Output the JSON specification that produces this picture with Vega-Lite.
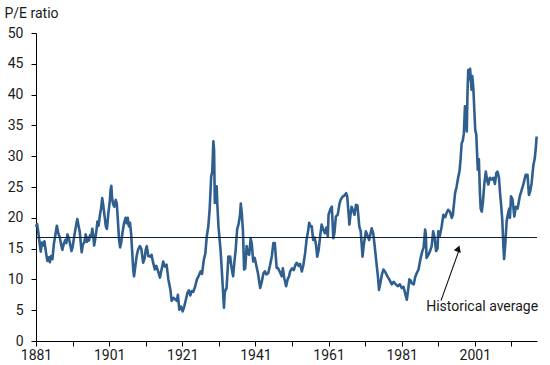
{
  "$schema": "https://vega.github.io/schema/vega-lite/v6.json",
  "autosize": {"type": "none"},
  "padding": {"left": 36, "top": 33, "right": 13, "bottom": 24},
  "width": 501,
  "height": 308,
  "background": "white",
  "config": {
    "view": {"stroke": null},
    "font": "Roboto",
    "axis": {
      "grid": false,
      "domainColor": "#000000",
      "tickColor": "#000000",
      "tickSize": 5,
      "labelFont": "Roboto",
      "labelFontSize": 14,
      "labelColor": "#1a1a1a",
      "titleFont": "Roboto",
      "titleFontSize": 14,
      "titleFontWeight": "normal",
      "titleColor": "#1a1a1a"
    }
  },
  "encoding": {
    "x": {
      "field": "year", "type": "quantitative",
      "scale": {"domain": [1881, 2018], "nice": false, "zero": false},
      "axis": {
        "title": null,
        "values": [1881, 1891, 1901, 1911, 1921, 1931, 1941, 1951, 1961, 1971, 1981, 1991, 2001, 2011],
        "format": "d",
        "labelExpr": "(datum.value - 1881) % 20 == 0 ? datum.label : ''",
        "labelPadding": 2,
        "labelFlush": false,
        "labelOverlap": false
      }
    },
    "y": {
      "field": "pe", "type": "quantitative",
      "scale": {"domain": [0, 50], "nice": false},
      "axis": {
        "title": "P/E ratio",
        "values": [0, 5, 10, 15, 20, 25, 30, 35, 40, 45, 50],
        "labelOverlap": false,
        "labelPadding": 8,
        "titleAngle": 0,
        "titleAlign": "left",
        "titleBaseline": "alphabetic",
        "titleX": -32,
        "titleY": -16
      }
    }
  },
  "layer": [
    {
      "data": {"values": [
        {"year": 1881.0, "pe": 18.5}, {"year": 1881.3, "pe": 19.0}, {"year": 1881.6, "pe": 17.8}, {"year": 1882.0, "pe": 15.8},
        {"year": 1882.3, "pe": 14.5}, {"year": 1882.6, "pe": 16.0}, {"year": 1883.0, "pe": 15.5}, {"year": 1883.3, "pe": 16.2},
        {"year": 1883.7, "pe": 14.5}, {"year": 1884.1, "pe": 13.0}, {"year": 1884.5, "pe": 13.6}, {"year": 1884.8, "pe": 12.8},
        {"year": 1885.1, "pe": 13.8}, {"year": 1885.5, "pe": 13.3}, {"year": 1885.9, "pe": 15.8}, {"year": 1886.3, "pe": 17.2},
        {"year": 1886.7, "pe": 18.7}, {"year": 1887.1, "pe": 17.5}, {"year": 1887.5, "pe": 16.8}, {"year": 1887.9, "pe": 15.6},
        {"year": 1888.2, "pe": 14.8}, {"year": 1888.6, "pe": 15.8}, {"year": 1889.0, "pe": 16.4}, {"year": 1889.3, "pe": 15.9},
        {"year": 1889.6, "pe": 17.3}, {"year": 1890.0, "pe": 16.7}, {"year": 1890.4, "pe": 15.5}, {"year": 1890.7, "pe": 14.6},
        {"year": 1891.0, "pe": 15.2}, {"year": 1891.4, "pe": 16.8}, {"year": 1891.8, "pe": 18.2}, {"year": 1892.1, "pe": 19.2},
        {"year": 1892.3, "pe": 19.8}, {"year": 1892.7, "pe": 18.5}, {"year": 1893.0, "pe": 17.6}, {"year": 1893.3, "pe": 15.5},
        {"year": 1893.5, "pe": 14.4}, {"year": 1893.8, "pe": 15.6}, {"year": 1894.2, "pe": 16.0}, {"year": 1894.6, "pe": 17.3},
        {"year": 1894.9, "pe": 16.1}, {"year": 1895.2, "pe": 16.8}, {"year": 1895.5, "pe": 16.3}, {"year": 1895.8, "pe": 17.2},
        {"year": 1896.1, "pe": 17.0}, {"year": 1896.4, "pe": 18.2}, {"year": 1896.7, "pe": 16.8}, {"year": 1896.9, "pe": 15.5},
        {"year": 1897.2, "pe": 16.6}, {"year": 1897.5, "pe": 17.8}, {"year": 1897.8, "pe": 19.4}, {"year": 1898.1, "pe": 18.7},
        {"year": 1898.5, "pe": 20.5}, {"year": 1898.8, "pe": 21.5}, {"year": 1899.1, "pe": 23.2}, {"year": 1899.4, "pe": 22.0},
        {"year": 1899.7, "pe": 20.5}, {"year": 1900.1, "pe": 18.6}, {"year": 1900.4, "pe": 18.2}, {"year": 1900.8, "pe": 20.8},
        {"year": 1901.2, "pe": 22.8}, {"year": 1901.4, "pe": 24.6}, {"year": 1901.6, "pe": 25.2}, {"year": 1901.8, "pe": 23.2},
        {"year": 1902.1, "pe": 22.2}, {"year": 1902.4, "pe": 21.8}, {"year": 1902.8, "pe": 22.9}, {"year": 1903.1, "pe": 22.3},
        {"year": 1903.4, "pe": 19.5}, {"year": 1903.7, "pe": 16.5}, {"year": 1904.0, "pe": 15.2}, {"year": 1904.3, "pe": 16.0},
        {"year": 1904.7, "pe": 17.8}, {"year": 1905.1, "pe": 19.2}, {"year": 1905.5, "pe": 20.0}, {"year": 1905.8, "pe": 19.1},
        {"year": 1906.1, "pe": 20.0}, {"year": 1906.4, "pe": 18.6}, {"year": 1906.7, "pe": 19.2}, {"year": 1907.0, "pe": 17.5},
        {"year": 1907.3, "pe": 14.5}, {"year": 1907.6, "pe": 11.5}, {"year": 1907.8, "pe": 10.5}, {"year": 1908.2, "pe": 12.3},
        {"year": 1908.5, "pe": 13.7}, {"year": 1908.9, "pe": 14.8}, {"year": 1909.4, "pe": 15.4}, {"year": 1909.8, "pe": 15.0},
        {"year": 1910.3, "pe": 12.7}, {"year": 1910.7, "pe": 13.4}, {"year": 1911.0, "pe": 14.8}, {"year": 1911.3, "pe": 15.4},
        {"year": 1911.7, "pe": 13.8}, {"year": 1912.2, "pe": 13.7}, {"year": 1912.6, "pe": 14.0}, {"year": 1913.0, "pe": 12.8},
        {"year": 1913.5, "pe": 11.6}, {"year": 1913.9, "pe": 12.2}, {"year": 1914.4, "pe": 11.3}, {"year": 1914.9, "pe": 10.3},
        {"year": 1915.3, "pe": 11.5}, {"year": 1915.8, "pe": 12.9}, {"year": 1916.2, "pe": 12.1}, {"year": 1916.7, "pe": 12.4},
        {"year": 1917.2, "pe": 10.0}, {"year": 1917.7, "pe": 8.5}, {"year": 1918.1, "pe": 6.5}, {"year": 1918.6, "pe": 7.0},
        {"year": 1919.0, "pe": 6.8}, {"year": 1919.5, "pe": 6.5}, {"year": 1919.8, "pe": 7.5}, {"year": 1920.2, "pe": 5.1},
        {"year": 1920.7, "pe": 5.6}, {"year": 1921.1, "pe": 4.8}, {"year": 1921.5, "pe": 5.5}, {"year": 1921.9, "pe": 6.5},
        {"year": 1922.4, "pe": 7.8}, {"year": 1922.8, "pe": 8.2}, {"year": 1923.2, "pe": 7.4}, {"year": 1923.6, "pe": 8.1},
        {"year": 1924.0, "pe": 8.0}, {"year": 1924.5, "pe": 8.8}, {"year": 1925.0, "pe": 10.0}, {"year": 1925.5, "pe": 10.6},
        {"year": 1926.0, "pe": 11.3}, {"year": 1926.4, "pe": 10.9}, {"year": 1926.9, "pe": 13.2}, {"year": 1927.3, "pe": 14.2},
        {"year": 1927.7, "pe": 17.0}, {"year": 1928.1, "pe": 18.5}, {"year": 1928.5, "pe": 21.5}, {"year": 1928.9, "pe": 26.7},
        {"year": 1929.2, "pe": 27.5}, {"year": 1929.5, "pe": 32.4}, {"year": 1929.7, "pe": 31.0}, {"year": 1929.9, "pe": 22.4},
        {"year": 1930.2, "pe": 24.0}, {"year": 1930.4, "pe": 25.1}, {"year": 1930.6, "pe": 22.0}, {"year": 1930.9, "pe": 18.6},
        {"year": 1931.2, "pe": 16.5}, {"year": 1931.5, "pe": 14.5}, {"year": 1931.8, "pe": 11.6}, {"year": 1932.1, "pe": 8.5},
        {"year": 1932.4, "pe": 5.4}, {"year": 1932.6, "pe": 7.8}, {"year": 1932.9, "pe": 8.4}, {"year": 1933.1, "pe": 8.5},
        {"year": 1933.4, "pe": 11.5}, {"year": 1933.6, "pe": 13.7}, {"year": 1933.9, "pe": 12.8}, {"year": 1934.1, "pe": 13.7},
        {"year": 1934.5, "pe": 11.8}, {"year": 1934.9, "pe": 10.5}, {"year": 1935.2, "pe": 12.5}, {"year": 1935.6, "pe": 14.8},
        {"year": 1936.0, "pe": 18.1}, {"year": 1936.4, "pe": 19.0}, {"year": 1936.8, "pe": 20.5}, {"year": 1937.0, "pe": 22.3},
        {"year": 1937.3, "pe": 20.5}, {"year": 1937.6, "pe": 17.8}, {"year": 1937.9, "pe": 11.6}, {"year": 1938.2, "pe": 11.8},
        {"year": 1938.6, "pe": 15.4}, {"year": 1938.9, "pe": 14.2}, {"year": 1939.3, "pe": 14.0}, {"year": 1939.7, "pe": 16.7},
        {"year": 1940.0, "pe": 15.8}, {"year": 1940.4, "pe": 12.9}, {"year": 1940.8, "pe": 13.5}, {"year": 1941.3, "pe": 12.1},
        {"year": 1941.7, "pe": 11.0}, {"year": 1942.3, "pe": 8.6}, {"year": 1942.7, "pe": 9.5}, {"year": 1943.2, "pe": 11.0},
        {"year": 1943.6, "pe": 11.3}, {"year": 1944.0, "pe": 10.8}, {"year": 1944.5, "pe": 11.0}, {"year": 1945.0, "pe": 12.3},
        {"year": 1945.5, "pe": 13.8}, {"year": 1945.9, "pe": 15.9}, {"year": 1946.3, "pe": 15.9}, {"year": 1946.8, "pe": 11.9},
        {"year": 1947.2, "pe": 11.8}, {"year": 1947.7, "pe": 11.2}, {"year": 1948.2, "pe": 10.5}, {"year": 1948.5, "pe": 11.8},
        {"year": 1948.9, "pe": 10.2}, {"year": 1949.4, "pe": 8.9}, {"year": 1949.8, "pe": 10.0}, {"year": 1950.2, "pe": 10.5},
        {"year": 1950.5, "pe": 11.3}, {"year": 1951.0, "pe": 11.8}, {"year": 1951.5, "pe": 11.5}, {"year": 1951.9, "pe": 12.3},
        {"year": 1952.3, "pe": 12.7}, {"year": 1952.8, "pe": 12.2}, {"year": 1953.2, "pe": 12.5}, {"year": 1953.7, "pe": 11.3},
        {"year": 1954.1, "pe": 12.3}, {"year": 1954.6, "pe": 14.3}, {"year": 1955.0, "pe": 16.5}, {"year": 1955.4, "pe": 17.8},
        {"year": 1955.7, "pe": 19.2}, {"year": 1956.1, "pe": 18.6}, {"year": 1956.4, "pe": 18.6}, {"year": 1956.8, "pe": 16.4},
        {"year": 1957.2, "pe": 16.8}, {"year": 1957.6, "pe": 15.5}, {"year": 1957.9, "pe": 13.7}, {"year": 1958.3, "pe": 14.8},
        {"year": 1958.7, "pe": 17.0}, {"year": 1959.1, "pe": 18.9}, {"year": 1959.5, "pe": 18.2}, {"year": 1960.0, "pe": 17.5},
        {"year": 1960.4, "pe": 18.4}, {"year": 1960.8, "pe": 17.0}, {"year": 1961.0, "pe": 20.5}, {"year": 1961.5, "pe": 21.4},
        {"year": 1961.9, "pe": 21.8}, {"year": 1962.3, "pe": 16.7}, {"year": 1962.6, "pe": 17.5}, {"year": 1963.0, "pe": 20.2},
        {"year": 1963.5, "pe": 20.5}, {"year": 1964.0, "pe": 22.3}, {"year": 1964.3, "pe": 22.9}, {"year": 1964.8, "pe": 23.4},
        {"year": 1965.3, "pe": 23.6}, {"year": 1965.8, "pe": 24.0}, {"year": 1966.1, "pe": 23.5}, {"year": 1966.5, "pe": 20.5},
        {"year": 1966.7, "pe": 18.9}, {"year": 1967.0, "pe": 20.5}, {"year": 1967.3, "pe": 21.8}, {"year": 1967.8, "pe": 21.0},
        {"year": 1968.1, "pe": 20.5}, {"year": 1968.5, "pe": 22.1}, {"year": 1968.9, "pe": 22.0}, {"year": 1969.4, "pe": 18.6},
        {"year": 1969.8, "pe": 17.8}, {"year": 1970.3, "pe": 13.7}, {"year": 1970.6, "pe": 15.5}, {"year": 1971.2, "pe": 17.8},
        {"year": 1971.6, "pe": 17.2}, {"year": 1972.1, "pe": 16.4}, {"year": 1972.5, "pe": 17.5}, {"year": 1972.8, "pe": 18.3},
        {"year": 1973.2, "pe": 17.5}, {"year": 1973.6, "pe": 15.5}, {"year": 1974.2, "pe": 12.1}, {"year": 1974.5, "pe": 10.5},
        {"year": 1974.8, "pe": 8.3}, {"year": 1975.2, "pe": 9.5}, {"year": 1975.6, "pe": 10.8}, {"year": 1976.0, "pe": 11.6},
        {"year": 1976.5, "pe": 11.2}, {"year": 1977.1, "pe": 10.5}, {"year": 1977.6, "pe": 10.0}, {"year": 1978.3, "pe": 9.2},
        {"year": 1978.8, "pe": 9.6}, {"year": 1979.4, "pe": 9.2}, {"year": 1979.9, "pe": 8.9}, {"year": 1980.5, "pe": 9.2},
        {"year": 1981.0, "pe": 8.6}, {"year": 1981.5, "pe": 8.8}, {"year": 1982.0, "pe": 7.6}, {"year": 1982.4, "pe": 6.7},
        {"year": 1982.8, "pe": 8.5}, {"year": 1983.1, "pe": 10.0}, {"year": 1983.5, "pe": 9.8}, {"year": 1983.7, "pe": 9.4},
        {"year": 1984.3, "pe": 9.2}, {"year": 1984.7, "pe": 10.4}, {"year": 1985.1, "pe": 11.0}, {"year": 1985.6, "pe": 11.6},
        {"year": 1986.2, "pe": 13.5}, {"year": 1986.6, "pe": 14.5}, {"year": 1987.0, "pe": 15.2}, {"year": 1987.4, "pe": 18.1},
        {"year": 1987.6, "pe": 17.4}, {"year": 1987.8, "pe": 13.5}, {"year": 1988.3, "pe": 14.0}, {"year": 1988.7, "pe": 14.5},
        {"year": 1989.2, "pe": 15.4}, {"year": 1989.6, "pe": 17.8}, {"year": 1990.0, "pe": 16.8}, {"year": 1990.4, "pe": 14.6},
        {"year": 1990.8, "pe": 15.0}, {"year": 1991.0, "pe": 17.8}, {"year": 1991.4, "pe": 17.0}, {"year": 1991.9, "pe": 18.5},
        {"year": 1992.4, "pe": 20.5}, {"year": 1992.9, "pe": 20.1}, {"year": 1993.3, "pe": 20.8}, {"year": 1993.7, "pe": 21.3},
        {"year": 1994.2, "pe": 21.0}, {"year": 1994.7, "pe": 20.0}, {"year": 1995.0, "pe": 20.5}, {"year": 1995.6, "pe": 24.0},
        {"year": 1996.0, "pe": 25.0}, {"year": 1996.5, "pe": 26.7}, {"year": 1996.8, "pe": 27.5}, {"year": 1997.1, "pe": 29.5},
        {"year": 1997.4, "pe": 32.1}, {"year": 1997.7, "pe": 32.5}, {"year": 1998.0, "pe": 33.7}, {"year": 1998.3, "pe": 38.1},
        {"year": 1998.6, "pe": 37.5}, {"year": 1998.8, "pe": 34.0}, {"year": 1999.0, "pe": 40.5}, {"year": 1999.2, "pe": 44.0},
        {"year": 1999.5, "pe": 42.5}, {"year": 1999.7, "pe": 44.2}, {"year": 2000.1, "pe": 40.8}, {"year": 2000.3, "pe": 43.0},
        {"year": 2000.6, "pe": 41.0}, {"year": 2000.9, "pe": 37.0}, {"year": 2001.1, "pe": 34.3}, {"year": 2001.4, "pe": 33.5},
        {"year": 2001.8, "pe": 27.8}, {"year": 2002.1, "pe": 29.5}, {"year": 2002.4, "pe": 24.0}, {"year": 2002.6, "pe": 21.5},
        {"year": 2002.9, "pe": 21.0}, {"year": 2003.2, "pe": 22.5}, {"year": 2003.6, "pe": 25.5}, {"year": 2004.0, "pe": 27.5},
        {"year": 2004.4, "pe": 26.0}, {"year": 2004.7, "pe": 25.4}, {"year": 2005.1, "pe": 26.5}, {"year": 2005.6, "pe": 26.2},
        {"year": 2006.1, "pe": 26.5}, {"year": 2006.5, "pe": 25.5}, {"year": 2006.9, "pe": 27.3}, {"year": 2007.2, "pe": 27.5},
        {"year": 2007.6, "pe": 26.5}, {"year": 2007.9, "pe": 24.0}, {"year": 2008.2, "pe": 22.0}, {"year": 2008.5, "pe": 19.7},
        {"year": 2008.8, "pe": 15.5}, {"year": 2009.0, "pe": 13.3}, {"year": 2009.3, "pe": 15.5}, {"year": 2009.7, "pe": 19.4},
        {"year": 2010.0, "pe": 20.5}, {"year": 2010.4, "pe": 21.5}, {"year": 2010.6, "pe": 20.0}, {"year": 2010.9, "pe": 23.5},
        {"year": 2011.3, "pe": 23.0}, {"year": 2011.8, "pe": 20.2}, {"year": 2012.2, "pe": 21.8}, {"year": 2012.7, "pe": 21.5},
        {"year": 2013.3, "pe": 23.5}, {"year": 2013.8, "pe": 24.5}, {"year": 2014.3, "pe": 25.5}, {"year": 2014.9, "pe": 27.0},
        {"year": 2015.4, "pe": 27.0}, {"year": 2015.8, "pe": 23.7}, {"year": 2016.1, "pe": 24.2}, {"year": 2016.5, "pe": 25.5},
        {"year": 2017.0, "pe": 28.5}, {"year": 2017.4, "pe": 29.7}, {"year": 2017.7, "pe": 31.5}, {"year": 2017.9, "pe": 33.2}
      ]},
      "mark": {"type": "line", "color": "#2f5f8f", "strokeWidth": 2.6, "strokeJoin": "round"}
    },
    {
      "data": {"values": [{"year": 1881, "pe": 16.8}, {"year": 2018, "pe": 16.8}]},
      "mark": {"type": "line", "color": "#0d1f33", "strokeWidth": 1.2}
    },
    {
      "data": {"values": [{"year": 1991.75, "pe": 6.56}, {"year": 1996.6, "pe": 14.6}]},
      "mark": {"type": "line", "color": "#111111", "strokeWidth": 1.1}
    },
    {
      "data": {"values": [{"year": 1996.5, "pe": 15.0}]},
      "mark": {"type": "point", "shape": "triangle-up", "filled": true, "color": "#111111", "size": 55, "angle": 20, "opacity": 1}
    },
    {
      "data": {"values": [{"year": 2003.0, "pe": 4.8, "label": "Historical average"}]},
      "mark": {"type": "text", "font": "Roboto", "fontSize": 14, "color": "#1a1a1a", "align": "center", "baseline": "alphabetic"},
      "encoding": {"text": {"field": "label"}}
    }
  ]
}
